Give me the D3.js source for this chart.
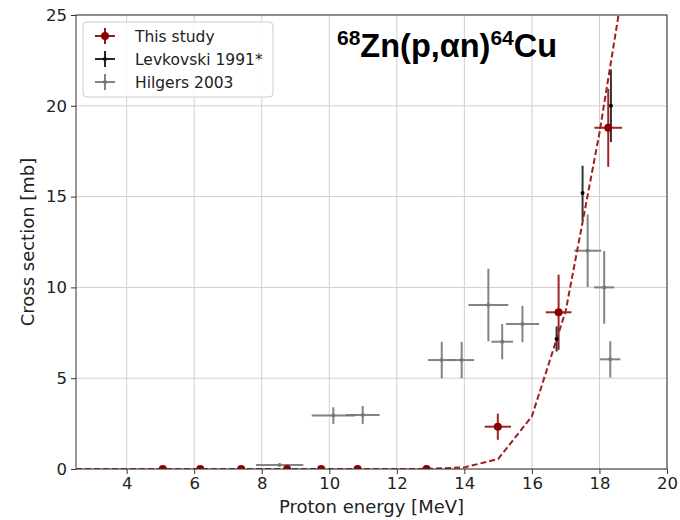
<!DOCTYPE html>
<html><head><meta charset="utf-8">
<script src="https://cdn.jsdelivr.net/npm/d3@7"></script>
<style>body{margin:0;background:#fff}svg{display:block}</style>
</head><body>
<svg id="c" width="680" height="520"></svg>
<script>
// ---- data ----
const xTicks = [4, 6, 8, 10, 12, 14, 16, 18, 20];
const yTicks = [0, 5, 10, 15, 20, 25];

const studyX    = [5.07, 6.18, 7.39, 8.75, 9.76, 10.84, 12.88, 14.99, 16.79, 18.26];
const studyY    = [0, 0, 0, 0, 0, 0, 0, 2.33, 8.63, 18.79];
const studyXerr = [0, 0, 0, 0, 0, 0, 0, 0.39, 0.38, 0.41];
const studyYerr = [0, 0, 0, 0, 0, 0, 0, 0.72, 2.07, 2.15];

const levX    = [16.73, 17.5, 18.34];
const levY    = [7.16, 15.2, 20.0];
const levYerr = [0.69, 1.5, 2.0];

const hilX    = [8.53, 10.12, 10.99, 13.33, 13.92, 14.71, 15.12, 15.72, 17.65, 18.14, 18.32];
const hilY    = [0.22, 2.94, 2.97, 6.0, 6.0, 9.03, 7.01, 7.98, 12.02, 10.0, 6.04];
const hilXerr = [0.7, 0.64, 0.5, 0.41, 0.37, 0.59, 0.32, 0.49, 0.4, 0.3, 0.3];
const hilYerr = [0.05, 0.46, 0.5, 1.0, 1.0, 2.0, 0.97, 1.0, 2.0, 2.0, 1.0];

const theoryX = [2.5, 4, 5, 6, 7, 8, 9, 10, 11, 12, 13, 14, 15, 16, 17, 18, 19];
const theoryY = [0, 0, 0, 0, 0, 0, 0, 0, 0, 0, 0.01, 0.09, 0.55, 2.9, 8.7, 18.5, 30];

const legendLabels = ["This study", "Levkovski 1991*", "Hilgers 2003"];

// ---- layout ----
const L = 76, R = 667, T = 15, B = 469;
const RED = "#8b0000", BLACK = "#111", GRAY = "#777", DASH = "#a01d22";
const svg = d3.select("#c");
const x = d3.scaleLinear().domain([2.5, 20]).range([L, R]);
const y = d3.scaleLinear().domain([0, 25]).range([B, T]);

svg.append("defs").append("clipPath").attr("id", "clip")
  .append("rect").attr("x", L).attr("y", T).attr("width", R - L).attr("height", B - T);

// grid
const grid = svg.append("g");
grid.selectAll(".gx").data(xTicks).join("line")
  .attr("x1", d => x(d)).attr("x2", d => x(d)).attr("y1", T).attr("y2", B)
  .attr("stroke", "#cfcfcf").attr("stroke-width", 1);
grid.selectAll(".gy").data(yTicks).join("line")
  .attr("x1", L).attr("x2", R).attr("y1", d => y(d)).attr("y2", d => y(d))
  .attr("stroke", "#cfcfcf").attr("stroke-width", 1);

// axes
const fontTick = "DejaVu Sans, sans-serif";
const gx = svg.append("g").attr("transform", `translate(0,${B})`)
  .call(d3.axisBottom(x).tickValues(xTicks).tickSize(5).tickPadding(3).tickFormat(d3.format("d")));
const gy = svg.append("g").attr("transform", `translate(${L},0)`)
  .call(d3.axisLeft(y).tickValues(yTicks).tickSize(5).tickPadding(4).tickFormat(d3.format("d")));
[gx, gy].forEach(g => {
  g.select(".domain").remove();
  g.selectAll("line").attr("stroke", "#333");
  g.selectAll("text").attr("font-family", fontTick).attr("font-size", 16.5).attr("fill", "#222");
});

const plot = svg.append("g").attr("clip-path", "url(#clip)");

function bars(g, xs, ys, xe, ye, color, w, op) {
  xs.forEach((xv, i) => {
    if (xe && xe[i] > 0)
      g.append("line").attr("x1", x(xv - xe[i])).attr("x2", x(xv + xe[i]))
        .attr("y1", y(ys[i])).attr("y2", y(ys[i]))
        .attr("stroke", color).attr("stroke-width", w).attr("opacity", op);
    if (ye && ye[i] > 0)
      g.append("line").attr("x1", x(xv)).attr("x2", x(xv))
        .attr("y1", y(ys[i] - ye[i])).attr("y2", y(ys[i] + ye[i]))
        .attr("stroke", color).attr("stroke-width", w).attr("opacity", op);
  });
}
bars(plot, hilX, hilY, hilXerr, hilYerr, GRAY, 2, 0.9);
bars(plot, studyX, studyY, studyXerr, studyYerr, RED, 2, 0.85);
bars(plot, levX, levY, null, levYerr, BLACK, 2, 0.85);

// theory dashed line
plot.append("path")
  .datum(theoryX.map((d, i) => [d, theoryY[i]]))
  .attr("d", d3.line().x(d => x(d[0])).y(d => y(d[1])))
  .attr("fill", "none").attr("stroke", DASH).attr("stroke-width", 2)
  .attr("stroke-dasharray", "6,3");

// markers
plot.selectAll(".hm").data(hilX).join("circle")
  .attr("cx", d => x(d)).attr("cy", (d, i) => y(hilY[i])).attr("r", 2).attr("fill", GRAY);
plot.selectAll(".lm").data(levX).join("circle")
  .attr("cx", d => x(d)).attr("cy", (d, i) => y(levY[i])).attr("r", 2).attr("fill", "#000");
plot.selectAll(".sm").data(studyX).join("circle")
  .attr("cx", d => x(d)).attr("cy", (d, i) => y(studyY[i])).attr("r", 4).attr("fill", RED);

// spines
svg.append("rect").attr("x", L).attr("y", T).attr("width", R - L).attr("height", B - T)
  .attr("fill", "none").attr("stroke", "#333").attr("stroke-width", 1);

// axis labels
svg.append("text").attr("x", (L + R) / 2).attr("y", 513).attr("text-anchor", "middle")
  .attr("font-family", fontTick).attr("font-size", 18).attr("fill", "#222").text("Proton energy [MeV]");
svg.append("text").attr("transform", "translate(34,242) rotate(-90)").attr("text-anchor", "middle")
  .attr("font-family", fontTick).attr("font-size", 18).attr("fill", "#222").text("Cross section [mb]");

// legend
const lg = svg.append("g");
lg.append("rect").attr("x", 83).attr("y", 22).attr("width", 190).attr("height", 75).attr("rx", 4)
  .attr("fill", "white").attr("fill-opacity", 0.85).attr("stroke", "#ccc");
const rows = [36, 59, 82];
const legColors = [RED, BLACK, GRAY];
legendLabels.forEach((lab, i) => {
  const cy = rows[i], cx = 105, c = legColors[i];
  lg.append("line").attr("x1", cx - 10).attr("x2", cx + 10).attr("y1", cy).attr("y2", cy)
    .attr("stroke", c).attr("stroke-width", 2).attr("opacity", 0.9);
  lg.append("line").attr("x1", cx).attr("x2", cx).attr("y1", cy - 8).attr("y2", cy + 8)
    .attr("stroke", c).attr("stroke-width", 2).attr("opacity", 0.9);
  lg.append("circle").attr("cx", cx).attr("cy", cy).attr("r", i === 0 ? 4 : 2).attr("fill", c);
  lg.append("text").attr("x", 135).attr("y", cy + 5.5).attr("font-family", fontTick)
    .attr("font-size", 15.5).attr("fill", "#222").text(lab);
});

// title
const tt = svg.append("text").attr("x", 337).attr("y", 57)
  .attr("font-family", "Liberation Sans, Arial, sans-serif").attr("font-weight", "bold")
  .attr("font-size", 32.5).attr("fill", "#000");
tt.append("tspan").attr("font-size", 21).attr("dy", -12).text("68");
tt.append("tspan").attr("dy", 12).text("Zn(p,αn)");
tt.append("tspan").attr("font-size", 21).attr("dy", -12).text("64");
tt.append("tspan").attr("dy", 12).text("Cu");
</script>
</body></html>
